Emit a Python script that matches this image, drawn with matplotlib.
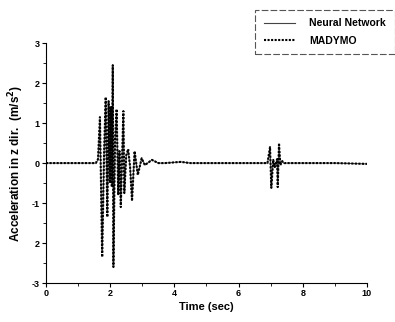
import matplotlib.pyplot as plt
from matplotlib.ticker import MultipleLocator

plt.rcParams['font.family'] = ['Liberation Sans', 'DejaVu Sans']

# turning points
t = [0, 1.55, 1.62, 1.68, 1.75, 1.81, 1.86, 1.91, 1.95, 1.99, 2.02, 2.05, 2.08, 2.10,
     2.15, 2.20, 2.25, 2.29, 2.33, 2.37, 2.41, 2.44, 2.50, 2.56, 2.62, 2.68, 2.76, 2.86,
     2.98, 3.08, 3.30, 3.50, 3.70, 4.20, 4.50, 6.90, 6.98, 7.02, 7.08, 7.13, 7.20, 7.22,
     7.26, 7.30, 7.36, 7.42, 9.0, 10.0]
madymo = [0, 0, 0.10, 1.15, -2.35, 0.30, 1.65, -1.35, 1.55, -0.50, 1.40, -0.60, 2.45, -2.60,
          0.60, 1.35, -0.80, 0.30, -1.10, 0.10, 1.30, -0.75, 0.20, 0.35, -0.10, -0.95, 0.30, -0.30,
          0.12, -0.05, 0.08, 0.0, 0.0, 0.03, 0.0, 0.0, 0.40, -0.62, 0.08, -0.10, 0.10, -0.60,
          0.50, -0.05, 0.05, 0.0, 0.0, -0.02]
neural = [0, 0, 0.08, 1.05, -2.20, 0.25, 1.55, -1.25, 1.45, -0.45, 1.30, -0.55, 2.30, -2.45,
          0.55, 1.25, -0.75, 0.28, -1.00, 0.10, 1.20, -0.70, 0.18, 0.32, -0.10, -0.90, 0.28, -0.28,
          0.12, -0.05, 0.08, 0.0, 0.0, 0.03, 0.0, 0.0, 0.35, -0.55, 0.07, -0.08, 0.08, -0.52,
          0.45, -0.04, 0.04, 0.0, 0.0, -0.02]

fig = plt.figure(figsize=(3.95, 3.22), dpi=100)
ax = fig.add_axes([0.1165, 0.121, 0.8125, 0.745])

ax.plot(t, neural, color='#444444', lw=0.8, label='Neural Network')
ax.plot(t, madymo, color='black', lw=1.5, ls=(0, (1, 0.7)), label='MADYMO')

ax.set_xlim(0, 10)
ax.set_ylim(-3, 3)
ax.xaxis.set_major_locator(MultipleLocator(2))
ax.xaxis.set_minor_locator(MultipleLocator(1))
ax.yaxis.set_major_locator(MultipleLocator(1))
ax.yaxis.set_minor_locator(MultipleLocator(0.5))
ax.set_yticks([3, 2, 1, 0, -1, -2, -3])
ax.set_yticklabels(['3', '2', '1', '0', '-1', '2', '-3'])
ax.tick_params(which='major', length=3, width=0.8, labelsize=6.5, pad=1.5)
ax.tick_params(which='minor', length=2, width=0.6)
for lab in ax.get_xticklabels() + ax.get_yticklabels():
    lab.set_fontweight('bold')

ax.spines['top'].set_visible(False)
ax.spines['right'].set_visible(False)

ax.set_xlabel('Time (sec)', fontsize=8, fontweight='bold', labelpad=3)
ax.set_ylabel('Acceleration in z dir.  (m/s$^\\mathbf{2}$)', fontsize=8.5, fontweight='bold', labelpad=4)

leg = fig.legend(loc='upper right', bbox_to_anchor=(1.012, 0.985), fancybox=False,
                 edgecolor='#555555', fontsize=7.5, handlelength=3.0, handletextpad=1.4,
                 borderpad=0.8, labelspacing=0.7, framealpha=1)
leg.get_frame().set_linestyle((0, (6, 2)))
leg.get_frame().set_linewidth(0.8)
for txt in leg.get_texts():
    txt.set_fontweight('bold')

fig.savefig('out.png', dpi=100)
